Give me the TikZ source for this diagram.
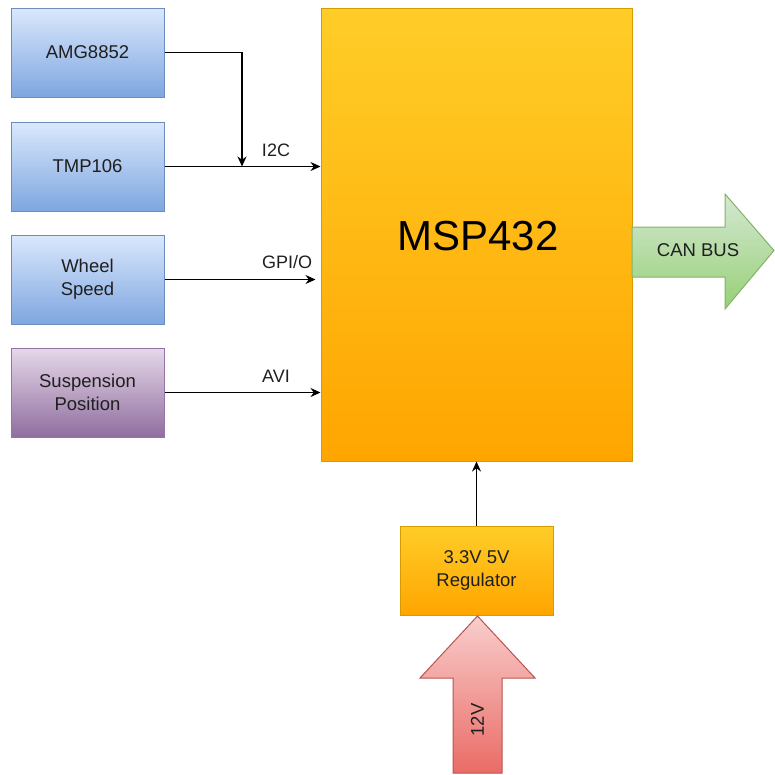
\documentclass[tikz,border=0pt]{standalone}
\usepackage{fontspec}
\setmainfont{Liberation Sans}
\usetikzlibrary{arrows.meta}
\definecolor{bluetop}{HTML}{DAE8FC}
\definecolor{bluebot}{HTML}{7EA6E0}
\definecolor{blueline}{HTML}{6C8EBF}
\definecolor{purptop}{HTML}{E6D8EA}
\definecolor{purpbot}{HTML}{8F6E9E}
\definecolor{purpline}{HTML}{9673A6}
\definecolor{orgtop}{HTML}{FFCD28}
\definecolor{orgbot}{HTML}{FFA500}
\definecolor{orgline}{HTML}{D79B00}
\definecolor{grntop}{HTML}{D5E8D4}
\definecolor{grnbot}{HTML}{97D077}
\definecolor{grnline}{HTML}{82B366}
\definecolor{redtop}{HTML}{F8CECC}
\definecolor{redbot}{HTML}{EA6B66}
\definecolor{redline}{HTML}{B85450}
\tikzset{
  base/.style={rectangle, inner sep=2pt, align=center, font=\fontsize{18.5}{23}\selectfont, text=black!88},
  bluebox/.style={base, draw=blueline, line width=1pt, top color=bluetop, bottom color=bluebot, minimum width=153pt, minimum height=89pt},
  purpbox/.style={base, draw=purpline, line width=1pt, top color=purptop, bottom color=purpbot, minimum width=153pt, minimum height=89pt},
  orgbox/.style={base, draw=orgline, line width=1pt, top color=orgtop, bottom color=orgbot},
  arr/.style={line width=1.3pt, -{Stealth[length=10pt,width=9pt]}},
  lbl/.style={font=\fontsize{18}{22}\selectfont, text=black!88, inner sep=1pt}
}
\begin{document}
\begin{tikzpicture}[x=1pt,y=-1pt]
\useasboundingbox (0,0) rectangle (775,774);
% MSP432
\node[orgbox, minimum width=311pt, minimum height=453pt] (msp) at (476.5,234.5) {};
\node[font=\fontsize{42}{48}\selectfont, inner sep=0pt] (msplbl) at (478,236) {MSP432};
% sensors
\node[bluebox] (amg) at (87.5,52.5) {AMG8852};
\node[bluebox] (tmp) at (87.5,166.5) {TMP106};
\node[bluebox] (whl) at (87.5,279.5) {Wheel\\Speed};
\node[purpbox] (sus) at (87.5,392.5) {Suspension\\Position};
% regulator
\node[orgbox, minimum width=153pt, minimum height=89pt] (reg) at (476.5,570.5) {3.3V 5V\\Regulator};
% CAN BUS arrow
\shade[top color=grntop, bottom color=grnbot, draw=grnline, line width=1pt]
  (632,227) -- (725,227) -- (725,194) -- (774,250.5) -- (725,309) -- (725,277) -- (632,277) -- cycle;
\node[lbl, font=\fontsize{18.5}{22}\selectfont] (can) at (698,250) {CAN BUS};
% 12V arrow
\shade[top color=redtop, bottom color=redbot, draw=redline, line width=1pt]
  (477.5,616) -- (535,678) -- (502,678) -- (502,773) -- (453,773) -- (453,678) -- (420,678) -- cycle;
\node[lbl, font=\fontsize{18.5}{22}\selectfont, rotate=90] (v12) at (477.5,720) {12V};
% connectors
\coordinate (j) at (242,166.5);
\draw[arr] (amg.east) -| (j);
\draw[arr] (tmp.east) -- (tmp.east -| msp.west);
\draw[arr] (whl.east) -- ([xshift=-5pt]whl.east -| msp.west);
\draw[arr] (sus.east) -- (sus.east -| msp.west);
\draw[arr] (reg.north) -- (reg.north |- msp.south);
% labels
\node[lbl] (li2c) at (276,150) {I2C};
\node[lbl] (lgpio) at (287,262) {GPI/O};
\node[lbl] (lavi) at (276,376) {AVI};
\end{tikzpicture}
\end{document}
